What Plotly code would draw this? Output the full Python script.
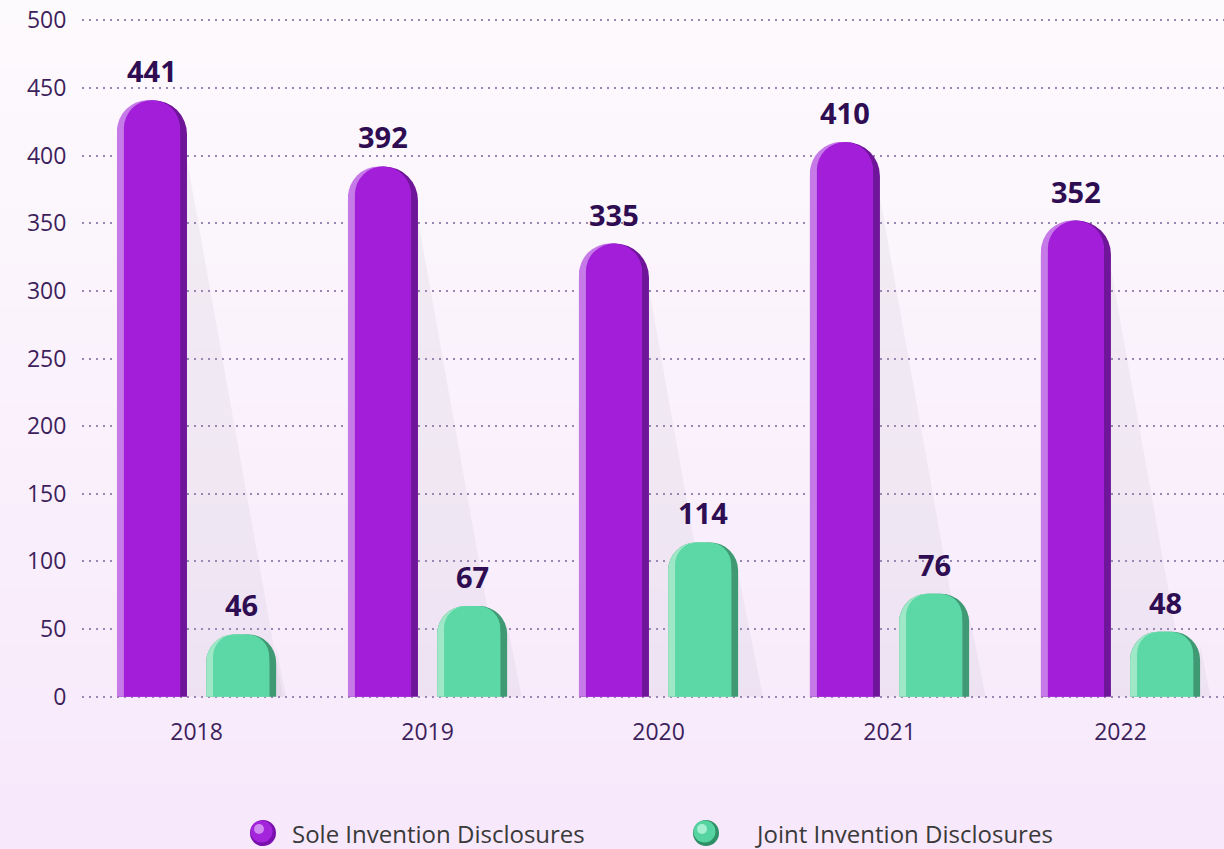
import plotly.graph_objects as go

years = ["2018", "2019", "2020", "2021", "2022"]
sole = [441, 392, 335, 410, 352]
joint = [46, 67, 114, 76, 48]
y_ticks = [0, 50, 100, 150, 200, 250, 300, 350, 400, 450, 500]
legend_names = ["Sole Invention Disclosures", "Joint Invention Disclosures"]

PURPLE = "#a21ed9"
PURPLE_DARK = "#6f1599"
PURPLE_LIGHT = "#c67ae8"
GREEN = "#5bd8a5"
GREEN_DARK = "#3f9a74"
GREEN_LIGHT = "#9ee8c8"
LABEL = "#2e0d52"
TICK = "#3d1f5c"
FONT = "Open Sans"

FW, FH = 1224, 849
ML, MR, MT, MB = 82, 0, 19, 151
PW = FW - ML - MR
PH = FH - MT - MB


def px_x(x):
    return (x - ML) / PW


def px_y(y):
    return (FH - MB - y) / PH


idx = list(range(len(years)))
W = 0.303
OFF = 0.193
EDGE = 0.03

fig = go.Figure()

# background gradient bands
n = 80
top = (253, 250, 253)
bot = (247, 232, 251)
y0p, y1p = -0.24, 1.04
for k in range(n):
    t = k / (n - 1)
    c = tuple(int(round(top[j] + (bot[j] - top[j]) * t)) for j in range(3))
    ya = y1p - (y1p - y0p) * k / n
    yb = y1p - (y1p - y0p) * (k + 1) / n
    fig.add_shape(type="rect", xref="paper", yref="paper", x0=-0.09, x1=1.02,
                  y0=yb - 0.002, y1=ya, fillcolor="rgb(%d,%d,%d)" % c,
                  line_width=0, layer="below")

# shadows derived from bar values
for i, v in zip(idx, sole):
    xr = i - OFF + W / 2
    d = v * 0.00094
    fig.add_shape(type="path", xref="x", yref="y", layer="below",
                  path=f"M {xr},{v*0.9} L {xr+d},0 L {xr},0 Z",
                  fillcolor="rgba(120,115,125,0.07)", line_width=0)
for i, v in zip(idx, joint):
    xr = i + OFF + W / 2
    d = v * 0.00094
    fig.add_shape(type="path", xref="x", yref="y", layer="below",
                  path=f"M {xr},{v*0.8} L {xr+d},0 L {xr},0 Z",
                  fillcolor="rgba(120,115,125,0.07)", line_width=0)


def add_bevel_bar(vals, center_off, dark, light, main, radius_full, radius_inner, name):
    left = center_off - W / 2
    fig.add_trace(go.Bar(x=idx, y=vals, width=W, offset=left,
                         marker=dict(color=dark, cornerradius=radius_full, line_width=0),
                         showlegend=False, name=name, hoverinfo="skip"))
    fig.add_trace(go.Bar(x=idx, y=vals, width=W - EDGE, offset=left,
                         marker=dict(color=light, cornerradius=radius_full, line_width=0),
                         showlegend=False, name=name, hoverinfo="skip"))
    fig.add_trace(go.Bar(x=idx, y=vals, width=W - 2 * EDGE, offset=left + EDGE,
                         marker=dict(color=main, cornerradius=radius_inner, line_width=0),
                         showlegend=False, name=name))


add_bevel_bar(sole, -OFF, PURPLE_DARK, PURPLE_LIGHT, PURPLE, "50%", "50%", legend_names[0])
add_bevel_bar(joint, OFF, GREEN_DARK, GREEN_LIGHT, GREEN, 28, 22, legend_names[1])

for i, v in zip(idx, sole):
    fig.add_annotation(x=i - OFF, y=v, text=f"<b>{v}</b>", showarrow=False,
                       yanchor="bottom", yshift=8,
                       font=dict(family=FONT, size=29, color=LABEL))
for i, v in zip(idx, joint):
    fig.add_annotation(x=i + OFF, y=v, text=f"<b>{v}</b>", showarrow=False,
                       yanchor="bottom", yshift=8,
                       font=dict(family=FONT, size=29, color=LABEL))

# custom legend (round markers)
LEG_Y = 833
legend_items = [
    (263, 290, ("#7a10ae", "#a424dc", "#cf8bf0")),
    (706, 753, ("#2f8f66", "#55d3a0", "#a6f0d0")),
]
for (cx, tx, cols), name in zip(legend_items, legend_names):
    for r, dx, dy, col in [(13, 0, 0, cols[0]), (11, -1.5, 1.5, cols[1]), (5, -4, 4, cols[2])]:
        fig.add_shape(type="circle", xref="paper", yref="paper",
                      xsizemode="pixel", ysizemode="pixel",
                      xanchor=px_x(cx), yanchor=px_y(LEG_Y),
                      x0=dx - r, x1=dx + r, y0=dy - r, y1=dy + r,
                      fillcolor=col, line_width=0, layer="above")
    fig.add_annotation(xref="paper", yref="paper", x=px_x(tx), y=px_y(LEG_Y),
                       xanchor="left", yanchor="middle", showarrow=False,
                       text=name, font=dict(family=FONT, size=24, color="#3a3a3a"))

fig.update_layout(
    width=FW, height=FH,
    margin=dict(l=ML, r=MR, t=MT, b=MB, autoexpand=False),
    paper_bgcolor="rgba(0,0,0,0)", plot_bgcolor="rgba(0,0,0,0)",
    barmode="overlay", showlegend=False,
    font=dict(family=FONT, color=TICK),
    xaxis=dict(range=[-0.496, 4.448], tickvals=idx, ticktext=years,
               showgrid=False, zeroline=False, showline=False, automargin=False,
               ticks="outside", ticklen=13, tickcolor="rgba(0,0,0,0)",
               tickfont=dict(family=FONT, size=23, color=TICK)),
    yaxis=dict(range=[-1, 501], tickvals=y_ticks, showgrid=True,
               gridcolor="#9a86b3", griddash="2px,5px", gridwidth=1.5,
               zeroline=False, showline=False, ticklabeloverflow="allow",
               automargin=False,
               ticks="outside", ticklen=10, tickcolor="rgba(0,0,0,0)",
               tickfont=dict(family=FONT, size=23, color=TICK)),
)

fig.write_html("out.html", config={"displayModeBar": False},
               post_script="document.body.style.margin='0';document.body.style.background='#fdf9fd';")
